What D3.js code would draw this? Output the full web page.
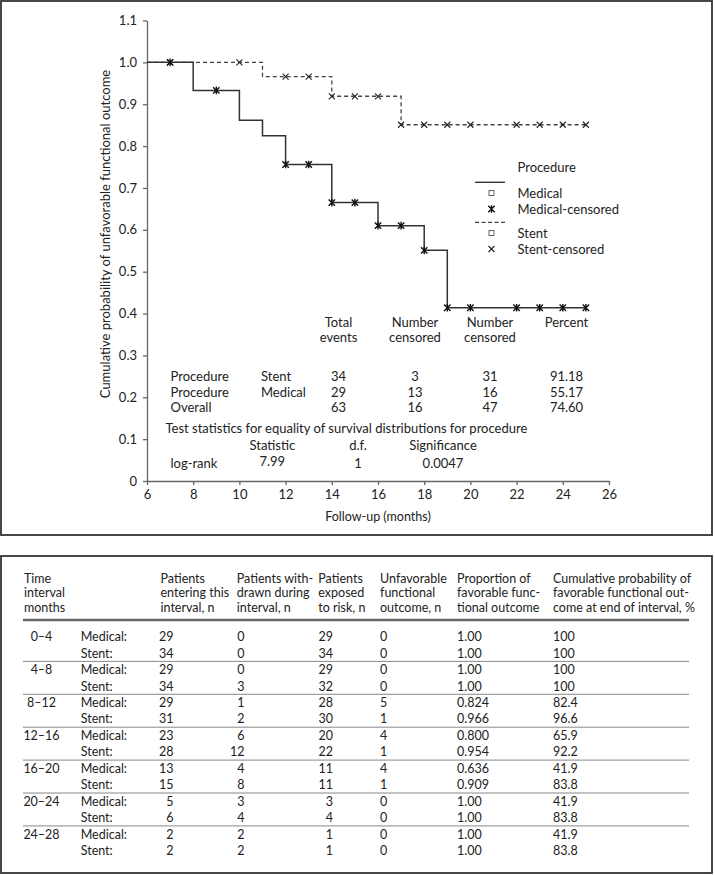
<!DOCTYPE html>
<html>
<head>
<meta charset="utf-8">
<script src="https://cdn.jsdelivr.net/npm/d3@7"></script>
<style>
  html, body { margin: 0; padding: 0; background: #fff; }
  svg { display: block; }
  text { font-family: Lato, "Open Sans", sans-serif; fill: #222; }
</style>
</head>
<body>
<svg id="chart" width="715" height="875"></svg>
<script>
// ---------------- DATA ----------------
const xTicks = [6, 8, 10, 12, 14, 16, 18, 20, 22, 24, 26];
const yTicks = [0, 0.1, 0.2, 0.3, 0.4, 0.5, 0.6, 0.7, 0.8, 0.9, 1.0, 1.1];

const medicalTimes = [6, 8, 10, 11, 12, 14, 16, 18, 19, 25];
const medicalSurv  = [1.0, 0.933, 0.862, 0.825, 0.756, 0.665, 0.610, 0.551, 0.414, 0.414];
const medicalCensored = [7, 9, 12, 13, 14, 15, 16, 17, 18, 19, 20, 22, 23, 24, 25];

const stentTimes = [6, 11, 14, 17, 25];
const stentSurv  = [1.0, 0.966, 0.919, 0.851, 0.851];
const stentCensored = [7, 10, 12, 13, 14, 15, 16, 17, 18, 19, 20, 22, 23, 24, 25];

const legendTitle = "Procedure";
const legendLabels = ["Medical", "Medical-censored", "Stent", "Stent-censored"];

const statsHeaders = [["Total", "events"], ["Number", "censored"], ["Number", "censored"], ["Percent"]];
const statsLabels = ["Procedure", "Procedure", "Overall"];
const statsGroups = ["Stent", "Medical", ""];
const statsTotal = ["34", "29", "63"];
const statsCens1 = ["3", "13", "16"];
const statsCens2 = ["31", "16", "47"];
const statsPercent = ["91.18", "55.17", "74.60"];
const testTitle = "Test statistics for equality of survival distributions for procedure";
const testHeaders = ["Statistic", "d.f.", "Significance"];
const testRow = ["log-rank", "7.99", "1", "0.0047"];

const tableHeaders = [
  ["Time", "interval", "months"],
  [],
  ["Patients", "entering this", "interval, n"],
  ["Patients with-", "drawn during", "interval, n"],
  ["Patients", "exposed", "to risk, n"],
  ["Unfavorable", "functional", "outcome, n"],
  ["Proportion of", "favorable func-", "tional outcome"],
  ["Cumulative probability of", "favorable functional out-", "come at end of interval, %"]
];
const intervals = ["0–4", "4–8", "8–12", "12–16", "16–20", "20–24", "24–28"];
const groups = ["Medical:", "Stent:"];
const entering    = [29, 34, 29, 34, 29, 31, 23, 28, 13, 15, 5, 6, 2, 2];
const withdrawn   = [0, 0, 0, 3, 1, 2, 6, 12, 4, 8, 3, 4, 2, 2];
const exposed     = [29, 34, 29, 32, 28, 30, 20, 22, 11, 11, 3, 4, 1, 1];
const unfavorable = [0, 0, 0, 0, 5, 1, 4, 1, 4, 1, 0, 0, 0, 0];
const proportion  = ["1.00", "1.00", "1.00", "1.00", "0.824", "0.966", "0.800", "0.954", "0.636", "0.909", "1.00", "1.00", "1.00", "1.00"];
const cumulative  = ["100", "100", "100", "100", "82.4", "96.6", "65.9", "92.2", "41.9", "83.8", "41.9", "83.8", "41.9", "83.8"];

// ---------------- DRAW ----------------
const svg = d3.select("#chart");
const FS = 12.5;

// frames
svg.append("rect").attr("x", 1).attr("y", 1).attr("width", 711).attr("height", 534)
  .attr("fill", "none").attr("stroke", "#333").attr("stroke-width", 1.8);
svg.append("rect").attr("x", 1).attr("y", 556).attr("width", 711).attr("height", 317)
  .attr("fill", "none").attr("stroke", "#333").attr("stroke-width", 1.8);

const x = d3.scaleLinear().domain([6, 26]).range([147, 609]);
const y = d3.scaleLinear().domain([0, 1.1]).range([481, 20.5]);

// axes
const xAxis = svg.append("g").attr("transform", `translate(0,${y(0)})`)
  .call(d3.axisBottom(x).tickValues(xTicks).tickSize(4).tickSizeOuter(0).tickPadding(5));
const yAxis = svg.append("g").attr("transform", `translate(${x(6)},0)`)
  .call(d3.axisLeft(y).tickValues(yTicks).tickSize(4).tickSizeOuter(0).tickPadding(6)
    .tickFormat(d => d === 0 ? "0" : d3.format(".1f")(d)));
[xAxis, yAxis].forEach(g => {
  g.selectAll("path, line").attr("stroke", "#666").attr("stroke-width", 1.3);
  g.selectAll("text").attr("font-size", 13).attr("font-family", "Lato, sans-serif").attr("fill", "#222");
});

svg.append("text").attr("x", 378).attr("y", 521).attr("text-anchor", "middle")
  .attr("font-size", FS).text("Follow-up (months)");
svg.append("text").attr("transform", "translate(110,234) rotate(-90)").attr("text-anchor", "middle")
  .attr("font-size", 13).text("Cumulative probability of unfavorable functional outcome");

// step lines
function stepData(times, surv) { return times.map((t, i) => [t, surv[i]]); }
function valueAt(times, surv, t) {
  let v = surv[0];
  times.forEach((tt, i) => { if (tt <= t) v = surv[i]; });
  return v;
}
const line = d3.line().x(d => x(d[0])).y(d => y(d[1])).curve(d3.curveStepAfter);

svg.append("path").datum(stepData(stentTimes, stentSurv)).attr("d", line)
  .attr("fill", "none").attr("stroke", "#444").attr("stroke-width", 1.3).attr("stroke-dasharray", "4,3");
svg.append("path").datum(stepData(medicalTimes, medicalSurv)).attr("d", line)
  .attr("fill", "none").attr("stroke", "#333").attr("stroke-width", 1.5);

function asterisk(g, cx, cy) {
  const r = 3.2;
  g.append("path").attr("d",
    `M${cx - r},${cy - r}L${cx + r},${cy + r}M${cx - r},${cy + r}L${cx + r},${cy - r}M${cx},${cy - r - 0.6}L${cx},${cy + r + 0.6}`)
    .attr("stroke", "#111").attr("stroke-width", 1.4).attr("fill", "none");
}
function cross(g, cx, cy) {
  const r = 3;
  g.append("path").attr("d",
    `M${cx - r},${cy - r}L${cx + r},${cy + r}M${cx - r},${cy + r}L${cx + r},${cy - r}`)
    .attr("stroke", "#222").attr("stroke-width", 1.1).attr("fill", "none");
}
const marks = svg.append("g");
stentCensored.forEach(t => cross(marks, x(t), y(valueAt(stentTimes, stentSurv, t))));
medicalCensored.forEach(t => asterisk(marks, x(t), y(valueAt(medicalTimes, medicalSurv, t))));

// legend
const lg = svg.append("g");
lg.append("text").attr("x", 517.5).attr("y", 171.8).attr("font-size", 13).text(legendTitle);
lg.append("line").attr("x1", 475).attr("x2", 505).attr("y1", 182.3).attr("y2", 182.3)
  .attr("stroke", "#333").attr("stroke-width", 1.4);
lg.append("line").attr("x1", 475).attr("x2", 505).attr("y1", 222.3).attr("y2", 222.3)
  .attr("stroke", "#444").attr("stroke-width", 1.2).attr("stroke-dasharray", "4,2.5");
const legY = [193, 209, 233, 249];
legendLabels.forEach((lab, i) => {
  lg.append("text").attr("x", 517.5).attr("y", legY[i] + 4.5).attr("font-size", 13).text(lab);
});
[0, 2].forEach(i => lg.append("rect").attr("x", 489).attr("y", legY[i] - 2.5).attr("width", 5).attr("height", 5)
  .attr("fill", "none").attr("stroke", "#555").attr("stroke-width", 0.9));
asterisk(lg, 491.5, legY[1]);
cross(lg, 491.5, legY[3]);

// statistics text inside chart
const st = svg.append("g");
const statCols = [338.5, 415, 490, 566.5];
statsHeaders.forEach((h, i) => h.forEach((ln, j) =>
  st.append("text").attr("x", statCols[i]).attr("y", 326.8 + j * 15.4).attr("text-anchor", "middle").attr("font-size", 13).text(ln)));
const rowY = [376.7, 392.3, 407.7];
statsLabels.forEach((lab, i) => {
  st.append("text").attr("x", 170.5).attr("y", rowY[i] + 4.5).attr("font-size", 13).text(lab);
  st.append("text").attr("x", 261).attr("y", rowY[i] + 4.5).attr("font-size", 13).text(statsGroups[i]);
  [statsTotal, statsCens1, statsCens2, statsPercent].forEach((arr, k) =>
    st.append("text").attr("x", statCols[k]).attr("y", rowY[i] + 4.5).attr("text-anchor", "middle").attr("font-size", 13).text(arr[i]));
});
st.append("text").attr("x", 165.5).attr("y", 432.8).attr("font-size", 13).text(testTitle);
const testCols = [272.3, 358, 443];
testHeaders.forEach((h, i) =>
  st.append("text").attr("x", testCols[i]).attr("y", 450.2).attr("text-anchor", "middle").attr("font-size", 13).text(h));
st.append("text").attr("x", 170.5).attr("y", 467.8).attr("font-size", 13).text(testRow[0]);
testRow.slice(1).forEach((v, i) =>
  st.append("text").attr("x", testCols[i]).attr("y", i === 0 ? 466.2 : 467.8).attr("text-anchor", "middle").attr("font-size", 13).text(v));

// ---------------- TABLE ----------------
const tb = svg.append("g");
const colX = [24, 80.7, 160.5, 236.8, 318.3, 380, 457, 553];
tableHeaders.forEach((h, i) => h.forEach((ln, j) =>
  tb.append("text").attr("x", colX[i]).attr("y", 582.8 + j * 14.6).attr("font-size", FS).text(ln)));
const ruleX1 = 23, ruleX2 = 689;
tb.append("line").attr("x1", ruleX1).attr("x2", ruleX2).attr("y1", 620).attr("y2", 620)
  .attr("stroke", "#666").attr("stroke-width", 2.4);

const rowScale = d3.scaleLinear().domain([0, 13]).range([636.7, 850.6]);
intervals.forEach((iv, g) => {
  tb.append("text").attr("x", 41.5).attr("y", rowScale(g * 2) + 4.5).attr("text-anchor", "middle").attr("font-size", FS).text(iv);
  if (g > 0) {
    const yy = (rowScale(g * 2 - 1) + rowScale(g * 2)) / 2;
    tb.append("line").attr("x1", ruleX1).attr("x2", ruleX2).attr("y1", yy).attr("y2", yy)
      .attr("stroke", "#888").attr("stroke-width", 1);
  }
});
entering.forEach((_, r) => {
  const yy = rowScale(r) + 4.5;
  tb.append("text").attr("x", colX[1]).attr("y", yy).attr("font-size", FS).text(groups[r % 2]);
  tb.append("text").attr("x", 173.5).attr("y", yy).attr("text-anchor", "end").attr("font-size", FS).text(entering[r]);
  tb.append("text").attr("x", 244.5).attr("y", yy).attr("text-anchor", "end").attr("font-size", FS).text(withdrawn[r]);
  tb.append("text").attr("x", 333).attr("y", yy).attr("text-anchor", "end").attr("font-size", FS).text(exposed[r]);
  tb.append("text").attr("x", colX[5]).attr("y", yy).attr("font-size", FS).text(unfavorable[r]);
  tb.append("text").attr("x", colX[6]).attr("y", yy).attr("font-size", FS).text(proportion[r]);
  tb.append("text").attr("x", colX[7]).attr("y", yy).attr("font-size", FS).text(cumulative[r]);
});
</script>
</body>
</html>
